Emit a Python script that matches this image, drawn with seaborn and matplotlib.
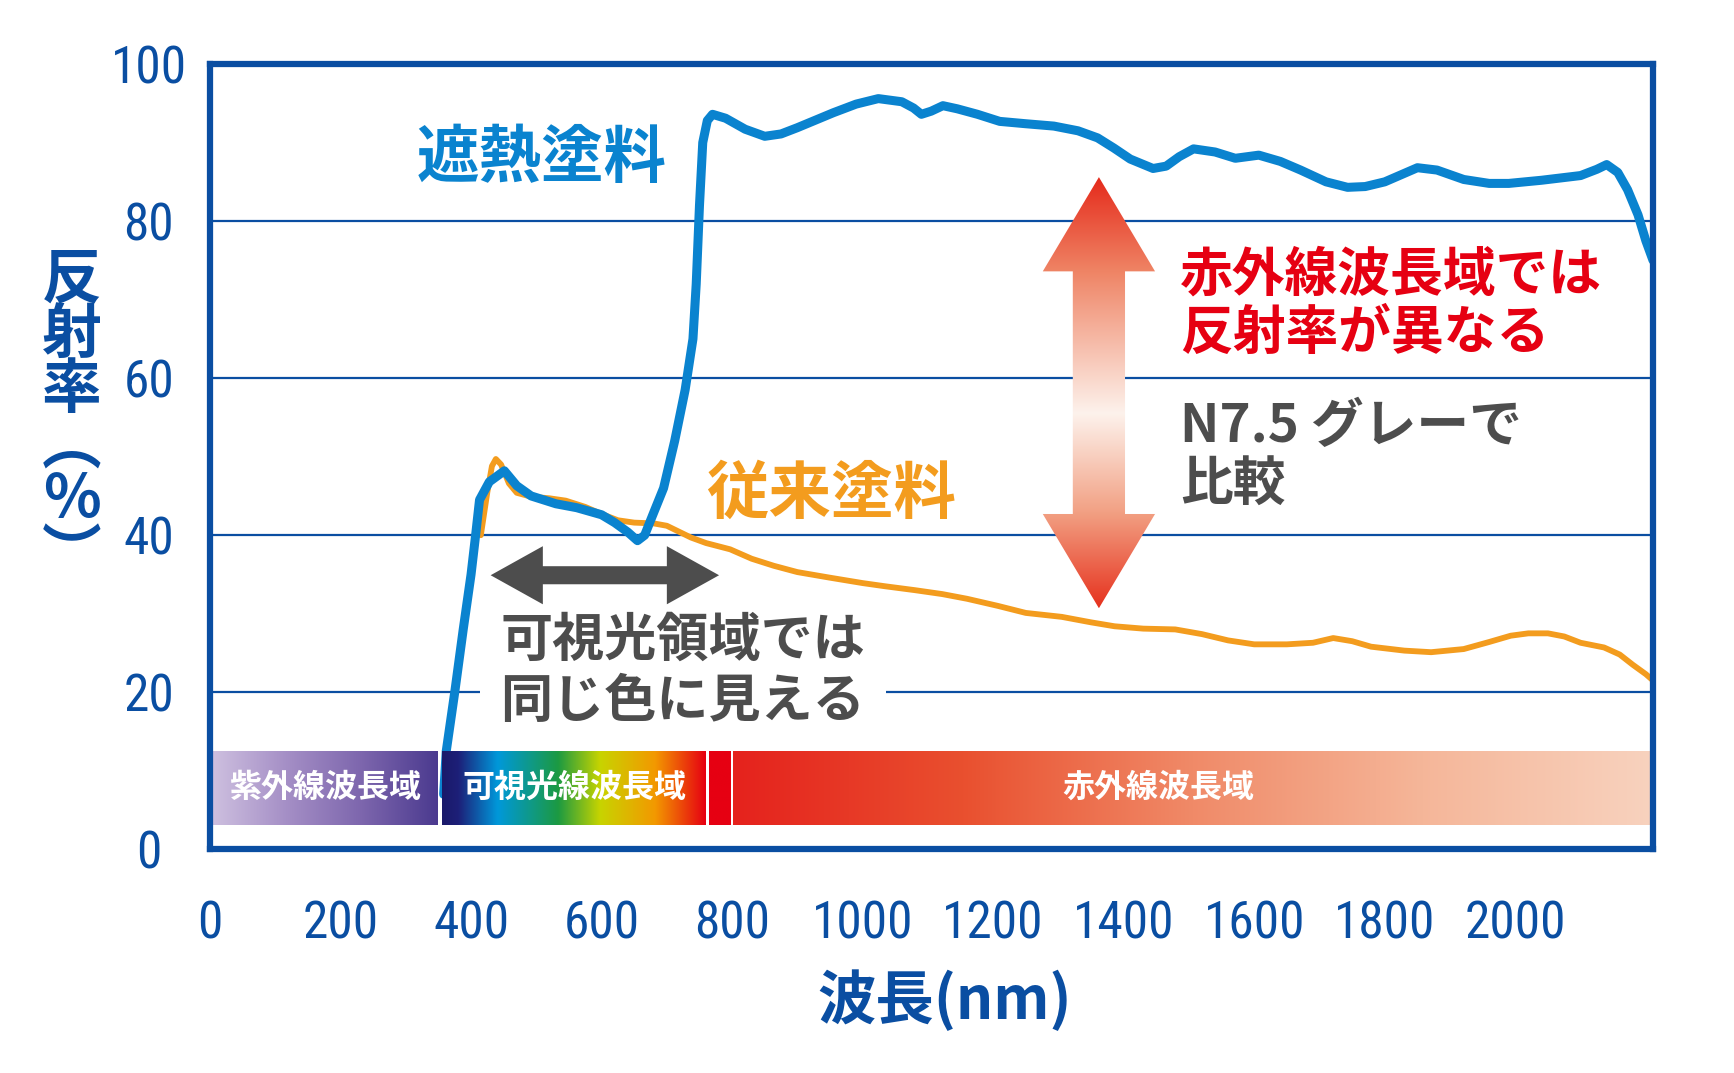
import numpy as np
import pandas as pd
import matplotlib
matplotlib.use('Agg')
import matplotlib.pyplot as plt
import seaborn as sns
from matplotlib.colors import LinearSegmentedColormap
from matplotlib.patches import Polygon
from matplotlib import font_manager
from matplotlib.font_manager import FontProperties

# ---------------- data ----------------
blue_nm = [358, 362, 375, 388, 400, 407, 413, 428, 451, 470, 492, 530, 562, 600, 620, 640, 655,
           666, 678, 695, 712, 728, 740, 745, 750, 755, 762, 770, 790, 820, 850, 875, 900, 955,
           990, 1024, 1060, 1078, 1090, 1105, 1123, 1145, 1176, 1210, 1250, 1293, 1330, 1360,
           1385, 1410, 1445, 1465, 1485, 1507, 1540, 1571, 1607, 1640, 1671, 1710, 1743, 1770,
           1800, 1850, 1880, 1921, 1960, 1990, 2040, 2100, 2125, 2140, 2157, 2172, 2188, 2200, 2211]
blue_val = [7, 12.5, 20, 28, 35, 40, 44.5, 46.8, 48.2, 46.3, 45.0, 44.0, 43.5, 42.6, 41.6, 40.4, 39.3,
            40.0, 42.5, 46, 52, 58.5, 65, 72, 82, 90, 92.8, 93.6, 93.1, 91.7, 90.8, 91.1, 91.9, 93.8,
            94.9, 95.6, 95.2, 94.4, 93.6, 94.0, 94.7, 94.3, 93.6, 92.7, 92.4, 92.1, 91.5, 90.6,
            89.3, 87.9, 86.7, 87.0, 88.2, 89.2, 88.8, 88.0, 88.4, 87.6, 86.5, 85.0, 84.3, 84.4,
            85.0, 86.8, 86.5, 85.3, 84.8, 84.8, 85.2, 85.8, 86.6, 87.2, 86.2, 84.0, 80.8, 77.5, 75.0]

orange_nm = [415, 425, 432, 438, 446, 458, 470, 492, 520, 545, 575, 600, 625, 650, 680, 700, 737,
             760, 797, 830, 864, 900, 949, 1000, 1034, 1080, 1122, 1160, 1207, 1250, 1305, 1350,
             1386, 1430, 1479, 1520, 1560, 1600, 1650, 1690, 1721, 1750, 1779, 1830, 1871, 1921,
             1960, 1993, 2020, 2050, 2075, 2100, 2136, 2160, 2180, 2200, 2211]
orange_val = [40, 45.5, 48.8, 49.7, 49.0, 46.6, 45.4, 44.9, 44.7, 44.4, 43.6, 42.7, 41.9, 41.6, 41.5,
              41.2, 39.7, 39.0, 38.2, 37.0, 36.1, 35.3, 34.6, 33.9, 33.5, 33.0, 32.5, 31.9, 31.0,
              30.1, 29.6, 28.9, 28.4, 28.1, 28.0, 27.4, 26.6, 26.1, 26.1, 26.3, 26.9, 26.5, 25.8,
              25.3, 25.1, 25.5, 26.4, 27.2, 27.5, 27.5, 27.1, 26.3, 25.7, 24.8, 23.5, 22.3, 21.5]

x_ticks = list(range(0, 2001, 200))
y_ticks = [0, 20, 40, 60, 80, 100]
x_limits = (0, 2211)
y_limits = (0, 100)

band_labels = ['紫外線波長域', '可視光線波長域', '', '赤外線波長域']
band_start = [0, 356, 764, 802]
band_end = [349, 759, 797, 2211]
band_label_x = [178, 559, 780, 1453]
band_bottom, band_top = 3.1, 12.5

band_colors = [
    ['#cfc1e0', '#a58fc6', '#7d66ad', '#4b3a8f'],
    [(0.0, '#1a1a6a'), (0.06, '#1d1f78'), (0.21, '#0098da'), (0.44, '#1c9a42'),
     (0.60, '#c8d400'), (0.81, '#f39800'), (1.0, '#e60012')],
    ['#e60012', '#e60012'],
    ['#e5221d', '#e9502f', '#f08a68', '#f5b699', '#f8d2be'],
]

# ---------------- style ----------------
sns.set_theme(style='white')
plt.rcParams['font.family'] = ['Noto Sans CJK JP', 'DejaVu Sans']


def _upright_regular(f):
    fn = f.fname.lower()
    if f.style != 'normal' or 'italic' in fn or 'oblique' in fn:
        return False
    w = f.weight
    if isinstance(w, str):
        return w in ('normal', 'regular', 'book', 'medium')
    return 400 <= w <= 500


def find_narrow_font():
    prefs = ['Liberation Sans Narrow', 'Roboto Condensed', 'Open Sans Condensed',
             'DejaVu Sans Condensed', 'Noto Sans Condensed']
    fl = font_manager.fontManager.ttflist
    for p in prefs:
        for f in fl:
            if f.name == p and _upright_regular(f):
                return FontProperties(fname=f.fname)
    for f in fl:
        st = f.stretch
        cond = (isinstance(st, str) and 'condensed' in st) or \
               (isinstance(st, (int, float)) and st < 500)
        fn = f.fname.lower()
        if (cond or 'condensed' in fn or 'narrow' in fn) and _upright_regular(f):
            return FontProperties(fname=f.fname)
    return None


narrow_fp = find_narrow_font()

AXC = '#0a4ea2'
BLUE = '#0a83cf'
ORANGE = '#f39c1e'
GRAY = '#4d4d4d'
RED = '#e60012'

fig, ax = plt.subplots(figsize=(17.34, 10.73), dpi=100)
fig.subplots_adjust(left=0.1211, right=0.9533, top=0.9403, bottom=0.2085)

df_blue = pd.DataFrame({'nm': blue_nm, 'val': blue_val})
df_orange = pd.DataFrame({'nm': orange_nm, 'val': orange_val})
sns.lineplot(data=df_orange, x='nm', y='val', color=ORANGE, lw=4.2, ax=ax, zorder=4, sort=False)
sns.lineplot(data=df_blue, x='nm', y='val', color=BLUE, lw=6.5, ax=ax, zorder=4.5, sort=False)

# spectral bands
for lab, x0, x1, cols, lx in zip(band_labels, band_start, band_end, band_colors, band_label_x):
    cmap = LinearSegmentedColormap.from_list('b', cols)
    grad = np.linspace(0, 1, 512).reshape(1, -1)
    ax.imshow(grad, cmap=cmap, extent=[x0, x1, band_bottom, band_top], aspect='auto',
              zorder=5, interpolation='bicubic')
    if lab:
        ax.text(lx, (band_bottom + band_top) / 2, lab, color='white', fontsize=23,
                fontweight='bold', ha='center', va='center', zorder=6)

# axes styling
ax.set_xlim(*x_limits)
ax.set_ylim(*y_limits)
ax.set_xticks(x_ticks)
ax.set_yticks(y_ticks)
ax.set_xticklabels([str(t) for t in x_ticks])
ax.set_yticklabels([str(t) for t in y_ticks])
ax.grid(axis='y', color=AXC, lw=1.6)
ax.grid(axis='x', visible=False)
ax.set_axisbelow(True)
for s in ax.spines.values():
    s.set_color(AXC)
    s.set_linewidth(4.5)
    s.set_zorder(7)
ax.tick_params(axis='x', direction='in', length=17, width=1.6, color=AXC, pad=36,
               labelsize=37, labelcolor=AXC)
ax.tick_params(axis='y', length=0, pad=44, labelsize=37, labelcolor=AXC)
for lbl in ax.get_xticklabels() + ax.get_yticklabels():
    if narrow_fp is not None:
        fp = narrow_fp.copy()
        fp.set_size(37)
        lbl.set_fontproperties(fp)
    else:
        lbl.set_family('Liberation Sans')
        lbl.set_fontsize(34)
for lbl in ax.get_yticklabels():
    lbl.set_ha('center')
ax.set_xlabel('')
ax.set_ylabel('')

fig.text(0.545, 0.067, '波長(nm)', ha='center', va='center', fontsize=42,
         fontweight='bold', color=AXC)
fig.text(0.0415, 0.610, '反\n射\n率\n︵\n％\n︶', ha='center', va='center', fontsize=43,
         fontweight='bold', color=AXC, linespacing=0.9)

# curve labels
ax.text(508, 88.0, '遮熱塗料', color=BLUE, fontsize=45, fontweight='bold',
        ha='center', va='center', zorder=6)
ax.text(952, 45.2, '従来塗料', color=ORANGE, fontsize=45, fontweight='bold',
        ha='center', va='center', zorder=6)


def h_double_arrow(x0, x1, y, shaft_h, head_h, head_len):
    return [(x0, y), (x0 + head_len, y + head_h / 2), (x0 + head_len, y + shaft_h / 2),
            (x1 - head_len, y + shaft_h / 2), (x1 - head_len, y + head_h / 2), (x1, y),
            (x1 - head_len, y - head_h / 2), (x1 - head_len, y - shaft_h / 2),
            (x0 + head_len, y - shaft_h / 2), (x0 + head_len, y - head_h / 2)]


def v_double_arrow(x, y0, y1, shaft_w, head_w, head_len):
    return [(x, y1), (x + head_w / 2, y1 - head_len), (x + shaft_w / 2, y1 - head_len),
            (x + shaft_w / 2, y0 + head_len), (x + head_w / 2, y0 + head_len), (x, y0),
            (x - head_w / 2, y0 + head_len), (x - shaft_w / 2, y0 + head_len),
            (x - shaft_w / 2, y1 - head_len), (x - head_w / 2, y1 - head_len)]


# horizontal gray double arrow
ax.add_patch(Polygon(h_double_arrow(430, 780, 34.9, 2.3, 7.4, 80), closed=True,
                     facecolor=GRAY, edgecolor='none', zorder=6))

ax.text(445, 22.7, '可視光領域では\n同じ色に見える', color=GRAY, fontsize=37.5,
        fontweight='bold', ha='left', va='center', linespacing=1.2, zorder=3,
        bbox=dict(boxstyle='square,pad=0.4', facecolor='white', edgecolor='none'))

# vertical gradient double arrow
va_x, va_y0, va_y1 = 1362, 30.7, 85.6
verts = v_double_arrow(va_x, va_y0, va_y1, 80, 172, 12.0)
clip = Polygon(verts, closed=True, facecolor='none', edgecolor='none', transform=ax.transData)
ax.add_patch(clip)
vcmap = LinearSegmentedColormap.from_list('v', [(0.0, '#e6321e'), (0.22, '#f2a083'),
                                                (0.45, '#fdf2ec'), (0.78, '#ef8465'),
                                                (1.0, '#e52a1b')])
vgrad = np.linspace(0, 1, 512).reshape(-1, 1)
im = ax.imshow(vgrad, cmap=vcmap, origin='lower', aspect='auto',
               extent=[va_x - 90, va_x + 90, va_y0, va_y1], zorder=3.5, interpolation='bicubic')
im.set_clip_path(clip)

ax.text(1486, 69.4, '赤外線波長域では\n反射率が異なる', color=RED, fontsize=38,
        fontweight='bold', ha='left', va='center', linespacing=1.12, zorder=6)
ax.text(1486, 50.1, 'N7.5 グレーで\n比較', color=GRAY, fontsize=38,
        fontweight='bold', ha='left', va='center', linespacing=1.12, zorder=6)

ax.set_xlim(*x_limits)
ax.set_ylim(*y_limits)

fig.savefig('out.png', dpi=100, facecolor='white')
